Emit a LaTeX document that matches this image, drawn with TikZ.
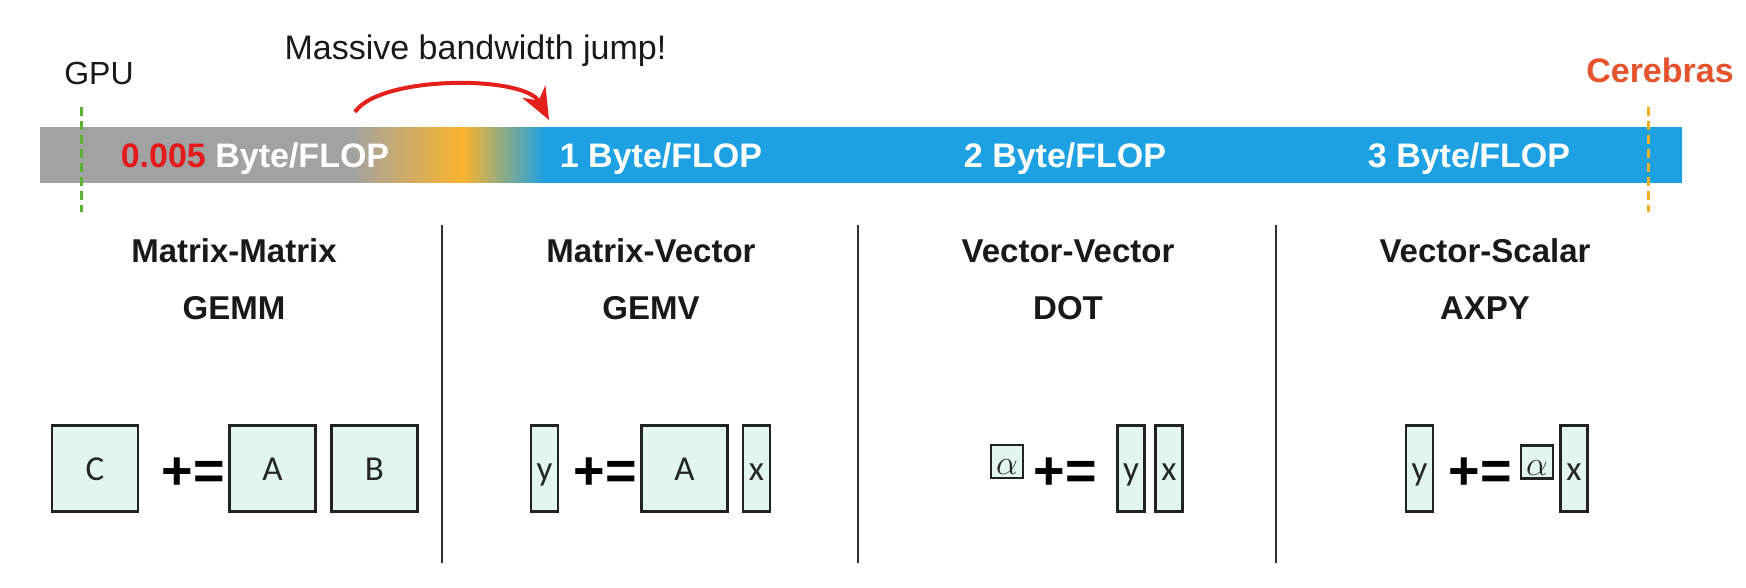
\documentclass[tikz,border=0pt]{standalone}
\usepackage{fontspec}
\setmainfont{Liberation Sans}
\newfontfamily\calib{Carlito}
\usetikzlibrary{arrows.meta}
\definecolor{bargray}{HTML}{A2A2A2}
\definecolor{barorange}{HTML}{FBB42C}
\definecolor{barblue}{HTML}{1EA1E3}
\definecolor{numred}{HTML}{E31A1C}
\definecolor{arrred}{HTML}{E3201B}
\definecolor{cerebras}{HTML}{E5532D}
\definecolor{gpugreen}{HTML}{5BB035}
\definecolor{cbdash}{HTML}{F5B027}
\definecolor{mint}{HTML}{E2F6F0}
\definecolor{boxline}{HTML}{222222}
\definecolor{divline}{HTML}{333333}
\begin{document}
\begin{tikzpicture}[x=0.5pt,y=-0.5pt,
  txt/.style={inner sep=0pt, anchor=base},
  bartxt/.style={txt, text=white, font=\fontsize{17pt}{20pt}\selectfont\bfseries},
  head/.style={txt, text=black!90, font=\fontsize{16.5pt}{20pt}\selectfont\bfseries},
  mat/.style={draw=boxline, line width=1.25pt, fill=mint, inner sep=0pt,
    font=\calib\fontsize{17.5pt}{20pt}\selectfont, text=black!85,
    text height=11.5pt, text depth=0pt},
  sq/.style={mat, minimum width=43pt, minimum height=43pt},
  vec/.style={mat, minimum width=13.5pt, minimum height=43pt},
  scal/.style={mat, minimum width=16pt, minimum height=16.5pt,
    font=\fontsize{19pt}{22pt}\selectfont, text height=13pt},
  pe/.style={txt, font=\fontsize{27pt}{30pt}\selectfont\bfseries},
  divider/.style={draw=divline, line width=1pt},
  marker/.style={line width=1.5pt, dash pattern=on 4.5pt off 2.5pt}
]
\useasboundingbox (0,0) rectangle (1746,588);

% ---- bar ----
\begin{scope}
  \clip (40,128) rectangle (1682,183);
  \fill[bargray] (30,120) rectangle (352,190);
  \shade[left color=bargray, right color=barorange] (350,120) rectangle (464,190);
  \shade[left color=barorange, right color=barblue] (462,120) rectangle (545,190);
  \fill[barblue] (543,120) rectangle (1690,190);
\end{scope}

\node[bartxt] (t0) at (255,168) {\textcolor{numred}{0.005} Byte/FLOP};
\node[bartxt] (t1) at (661,168) {1 Byte/FLOP};
\node[bartxt] (t2) at (1065,168) {2 Byte/FLOP};
\node[bartxt] (t3) at (1469,168) {3 Byte/FLOP};

% ---- markers ----
\node[txt, font=\fontsize{16pt}{19pt}\selectfont, text=black!90] (gpu) at (99,85) {GPU};
\node[txt, font=\fontsize{17pt}{20pt}\selectfont\bfseries, text=cerebras] (cb) at (1660,83) {Cerebras};
\coordinate (gT) at (81,107);
\coordinate (gB) at (81,212);
\coordinate (cT) at (1648,107);
\coordinate (cB) at (1648,212);
\draw[marker, gpugreen] (gT) -- (gB);
\draw[marker, cbdash] (cT) -- (cB);

% ---- jump arrow ----
\node[txt, font=\fontsize{17pt}{20pt}\selectfont, text=black!90] (jump) at (475.5,60) {Massive bandwidth jump!};
\coordinate (arrS) at (355,112);
\coordinate (arrE) at (549,120);
\draw[arrred, line width=2pt, -{Stealth[length=16pt,width=13pt,inset=5pt]}]
  (arrS) .. controls (380,75) and (525,75) .. (arrE);

% ---- dividers ----
\coordinate (d1T) at (442,225); \coordinate (d1B) at (442,563);
\coordinate (d2T) at (858,225); \coordinate (d2B) at (858,563);
\coordinate (d3T) at (1276,225); \coordinate (d3B) at (1276,563);
\draw[divider] (d1T) -- (d1B);
\draw[divider] (d2T) -- (d2B);
\draw[divider] (d3T) -- (d3B);

% ---- headings ----
\node[head] (h1a) at (234,263) {Matrix-Matrix};
\node[head] (h1b) at (234,320) {GEMM};
\node[head] (h2a) at (651,263) {Matrix-Vector};
\node[head] (h2b) at (651,320) {GEMV};
\node[head] (h3a) at (1068,263) {Vector-Vector};
\node[head] (h3b) at (1068,320) {DOT};
\node[head] (h4a) at (1485,263) {Vector-Scalar};
\node[head] (h4b) at (1485,320) {AXPY};

% ---- section 1: GEMM ----
\node[sq] (C1) at (95,468.5) {C};
\node[pe] (pe1) at (193.5,489) {+=};
\node[sq] (A1) at (272.5,468.5) {A};
\node[sq] (B1) at (374.5,468.5) {B};

% ---- section 2: GEMV ----
\node[vec] (y2) at (544.5,468.5) {y};
\node[pe] (pe2) at (605,489) {+=};
\node[sq] (A2) at (684.5,468.5) {A};
\node[vec] (x2) at (756.5,468.5) {x};

% ---- section 3: DOT ----
\node[scal] (a3) at (1007,461.5) {$\alpha$};
\node[pe] (pe3) at (1065,489) {+=};
\node[vec] (y3) at (1131,468.5) {y};
\node[vec] (x3) at (1169,468.5) {x};

% ---- section 4: AXPY ----
\node[vec] (y4) at (1419.5,468.5) {y};
\node[pe] (pe4) at (1480,489) {+=};
\node[scal] (a4) at (1537,462) {$\alpha$};
\node[vec] (x4) at (1574,468.5) {x};
\end{tikzpicture}
\end{document}
